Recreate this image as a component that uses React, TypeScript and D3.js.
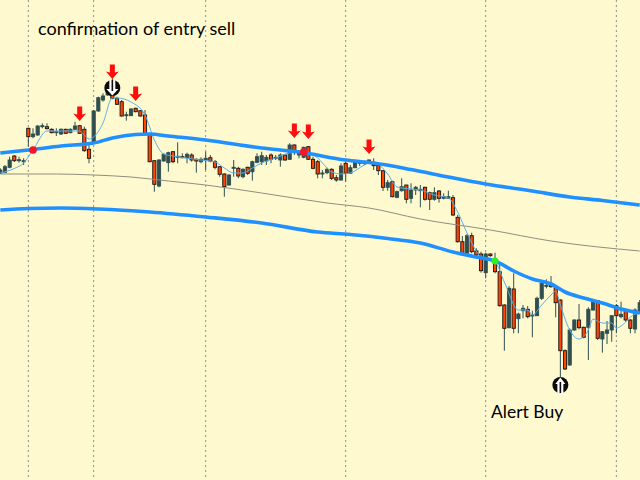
import { useEffect, useRef } from 'react';
import * as d3 from 'd3';

// candle values, one entry per bar (price in chart units)
const opens = [
  306.7, 307.7, 312.7, 324, 319.7, 318.7, 351.7, 343.3, 345, 353.7,
  353.3, 350.7, 347.3, 346, 350.7, 347.3, 350.7, 354.3, 350.7, 330.7,
  336.7, 369, 380, 385, 386.7, 381.7, 378.3, 364.7, 364.3, 371.7,
  369.3, 365, 346, 319.3, 294, 319, 317.3, 328.3, 323, 323.3,
  322.3, 325, 320.7, 318.3, 320, 322.3, 318.3, 313.3, 306, 295,
  311.7, 311.7, 303.3, 312.7, 308.3, 317.7, 318.3, 319, 325, 321.7,
  320, 325, 320.7, 335, 325, 322.7, 333.3, 320.7, 318.3, 306.3,
  307.3, 310.7, 302.3, 300, 316.7, 306.7, 312.3, 316.7, 316.7, 319.3,
  316.7, 315, 309.3, 292.7, 298.3, 282.7, 289.3, 295, 281.7, 290,
  289.3, 292.7, 287.3, 280.7, 289, 281.7, 281.7, 282.3, 262.7, 238.3,
  226.7, 244.3, 229, 226, 207.3, 226, 218.3, 208.3, 175, 152.3,
  191, 161.3, 169.3, 170.7, 164, 164.3, 181.7, 194, 196.7, 192.3,
  180, 129.3, 115, 150, 160, 152.7, 152.7, 170, 179.3, 141,
  146.7, 150, 174.3, 163.3, 170, 160, 151, 166.7,
];
const closes = [
  310, 313.3, 320, 319.3, 320.3, 319.3, 343.3, 346, 354, 354.3,
  351.3, 347.3, 348.3, 350.7, 346.7, 350.7, 354, 346.7, 329.3, 321.7,
  369, 382.3, 384, 395, 381.7, 375.7, 364, 365.3, 371, 368.3,
  364, 346, 318.3, 295.7, 320, 325.7, 327.3, 318.3, 323.7, 322.3,
  325.7, 320, 319, 320.7, 321.7, 319, 312.7, 305.7, 293.3, 305,
  312.7, 304, 310.7, 306.7, 318.3, 323.3, 324.3, 322.7, 320.7, 322.7,
  325, 320, 335, 329.3, 328.3, 332.7, 320.7, 311.7, 306, 307,
  310.7, 301.7, 300, 314, 306.7, 312.3, 317.7, 317.7, 317.7, 320,
  314.3, 309.3, 292.7, 297.3, 283.3, 288.3, 293.3, 280.7, 290, 292.7,
  290.7, 280.7, 280.7, 287.3, 281.7, 283.3, 283.3, 265, 238.3, 226.7,
  244.3, 228.3, 225, 209.3, 226, 224.3, 208.3, 174.3, 151.7, 191.7,
  151.7, 166, 171.7, 163.3, 165, 181.7, 196.7, 194.7, 193.3, 177.3,
  129.3, 111, 150, 160, 152.3, 142.7, 170.7, 178.3, 141.7, 148.3,
  150, 164.3, 164.3, 165.7, 160, 151.7, 170, 177.3,
];
const highs = [
  311.7, 315, 323.3, 325, 323.3, 321.7, 352.3, 351.7, 354.7, 356.7,
  356.7, 351.7, 351.7, 351.7, 351.3, 351.7, 358.3, 355, 353.3, 336.7,
  370, 383.3, 386.7, 396.7, 401.7, 383.3, 380, 368.3, 371.7, 372.3,
  370, 370, 346.7, 320, 320.7, 326.7, 328.3, 329, 337.7, 326.7,
  327.3, 326.7, 321.7, 322.7, 328.3, 325, 320, 314, 306.7, 305.7,
  320, 313.3, 311.7, 313.3, 319.3, 326.7, 328.3, 325, 326.7, 325,
  326.7, 325.7, 336.7, 335.7, 330, 333.3, 334, 323.3, 320, 310,
  312.3, 311.7, 305, 316.7, 318.3, 315, 318.3, 320, 319.3, 320.7,
  321.7, 316.7, 310, 300, 299.3, 289.3, 301.7, 295, 296.7, 294,
  295, 293.3, 288.3, 292.7, 290, 286.7, 289.3, 285, 265, 244,
  246, 247.3, 231.7, 228.3, 227.3, 226.7, 227.3, 215, 175.7, 194,
  206.7, 167.3, 175, 174, 169.3, 183.3, 200, 200.7, 204, 193.3,
  180.7, 130.7, 151.7, 160.7, 176, 153.3, 172.7, 180, 180, 149,
  159, 165, 176, 178.3, 171.7, 160.7, 171.7, 180,
];
const lows = [
  306, 306.7, 311.7, 318, 317.3, 315, 333.3, 341.7, 344.3, 351.7,
  350.7, 346.7, 344, 345, 346, 346.7, 350.3, 346, 328.3, 316.7,
  336, 368.3, 378.3, 384.3, 380.7, 375, 363.3, 359.3, 364, 367.7,
  363.3, 345.3, 317.7, 288.3, 292.7, 318.3, 308.3, 316.7, 316.7, 321.7,
  316.7, 318.3, 307.3, 316.7, 310, 317.7, 310.7, 303.3, 283.3, 294.3,
  303.3, 301.7, 301.7, 305, 299.3, 316.7, 315, 315, 316.7, 320,
  313.3, 319.3, 320, 325, 321.7, 321.7, 320, 310.7, 301.7, 301.7,
  305.7, 300, 298.3, 299.3, 298.3, 306, 311.7, 314, 315, 318.3,
  310, 305, 289, 289.3, 282.7, 281.7, 288.3, 276.7, 276.7, 285,
  272.7, 279.3, 270, 279.3, 277.3, 280.7, 281, 264, 237.3, 226,
  225, 226.7, 223.3, 207.3, 201.7, 223.3, 206.7, 173.3, 129.3, 151.7,
  146.7, 146.7, 161.7, 161.7, 142.7, 164, 180, 191.7, 192.3, 162.7,
  95, 110, 114.3, 149.3, 150.7, 141.7, 120, 169.3, 140, 127.3,
  136, 138.3, 146.7, 161.7, 158.3, 146.7, 146.7, 166,
];

// moving averages, sampled where they bend
const upperBandBars = [0, 6, 13, 20, 24, 29, 32, 36, 44, 56, 64, 74, 80, 88, 96, 104, 114, 122, 129, 137];
const upperBand = [327, 330, 334, 337, 342, 345.5, 346, 344, 340, 332, 328, 320, 317, 310.5, 303, 296, 289, 283, 279.5, 275];
const lowerBandBars = [0, 6, 13, 21, 32, 44, 56, 68, 75, 83, 90, 97, 102, 106, 110, 114, 118, 121, 125, 129, 133, 137];
const lowerBand = [270, 271.5, 272, 271, 268, 263, 257, 248, 245.5, 241.5, 237, 228, 223, 219, 209, 201, 196, 188, 182, 177, 171, 167];
const slowLineBars = [0, 12, 20, 28, 36, 44, 56, 70, 79, 90, 105, 118, 137];
const slowLine = [306, 306, 305, 303, 299, 295, 287, 277, 272, 261, 250, 239, 229];
const fastLineBars = [
  0, 3, 5, 7, 10, 17, 18, 19, 20, 22, 24, 25, 28, 31, 33, 35, 37, 43, 46, 48,
  50, 52, 54, 56, 59, 62, 65, 68, 70, 71, 73, 75, 78, 80, 83, 85, 88, 90, 93, 96,
  98, 100, 103, 104, 106, 108, 111, 113, 114, 116, 118, 119, 120, 122, 124, 126, 127, 129, 131, 132,
  134, 135, 137,
];
const fastLine = [
  307, 311.5, 317, 330, 349, 349, 345, 341, 343, 357, 382, 382, 378, 365, 340, 326, 324, 320, 318, 312,
  307, 307, 312, 317, 322, 327, 328, 322, 312, 308, 306, 307, 315, 318, 306, 293, 291, 290, 285, 282,
  268, 247, 223, 221, 218, 198, 170, 170, 165, 175, 185, 189, 175, 150, 141, 150, 161, 157, 157, 152,
  158, 163, 167,
];

// signals
const sellArrowBars = [17, 24, 29, 63, 66, 79];
const sellArrowPrices = [359, 401, 379, 342, 341, 326];
const redDotBars = [7, 65];
const redDotPrices = [330, 328];
const greenDotBars = [106];
const greenDotPrices = [219];
const gridBars = [6, 20, 44, 74, 104, 132];

export default function App() {
  const svgRef = useRef<SVGSVGElement>(null);

  useEffect(() => {
    if (!svgRef.current) return;

    const width = 640;
    const height = 480;

    d3.select(svgRef.current).selectAll('*').remove();

    const svg = d3.select(svgRef.current)
      .attr('width', width)
      .attr('height', height);

    svg.append('rect')
      .attr('width', width)
      .attr('height', height)
      .attr('fill', '#fff9cf');

    const x = d3.scaleLinear().domain([0, 137]).range([0.33, 639.7]);
    const y = d3.scaleLinear().domain([0, 480]).range([480, 0]);

    // Gridlines
    svg.append('g')
      .selectAll('line')
      .data(gridBars)
      .join('line')
      .attr('x1', d => x(d))
      .attr('x2', d => x(d))
      .attr('y1', 0)
      .attr('y2', height)
      .attr('stroke', '#8f8f86')
      .attr('stroke-width', 1)
      .attr('stroke-dasharray', '2,3');

    const bars = d3.range(opens.length);

    // Wicks
    svg.append('g')
      .selectAll('line')
      .data(bars)
      .join('line')
      .attr('x1', i => x(i))
      .attr('x2', i => x(i))
      .attr('y1', i => y(highs[i]))
      .attr('y2', i => y(lows[i]))
      .attr('stroke', '#2f4f4f')
      .attr('stroke-width', 1);

    // Bodies
    svg.append('g')
      .selectAll('rect')
      .data(bars)
      .join('rect')
      .attr('x', i => x(i) - 1.6)
      .attr('width', 3.2)
      .attr('y', i => y(Math.max(opens[i], closes[i])))
      .attr('height', i => Math.max(1, Math.abs(opens[i] - closes[i])))
      .attr('fill', i => (closes[i] >= opens[i] ? '#2f4f4f' : '#ff4500'))
      .attr('stroke', i => (closes[i] >= opens[i] ? '#2f4f4f' : '#141414'))
      .attr('stroke-width', 0.9);

    const drawLine = (barIdx: number[], values: number[], color: string, lineWidth: number) => {
      const line = d3.line<number>()
        .x(i => x(barIdx[i]))
        .y(i => y(values[i]))
        .curve(d3.curveMonotoneX);
      svg.append('path')
        .datum(d3.range(values.length))
        .attr('fill', 'none')
        .attr('stroke', color)
        .attr('stroke-width', lineWidth)
        .attr('d', line);
    };

    drawLine(slowLineBars, slowLine, '#8f8d80', 1);
    drawLine(fastLineBars, fastLine, '#5aaee8', 1);
    drawLine(upperBandBars, upperBand, '#1e90ff', 3.6);
    drawLine(lowerBandBars, lowerBand, '#1e90ff', 3.6);

    // Sell arrows
    const arrow = 'M0,0 L-6.5,-7.5 L-2.5,-6.5 L-2.5,-14.5 L2.5,-14.5 L2.5,-6.5 L6.5,-7.5 Z';
    svg.append('g')
      .selectAll('path')
      .data(sellArrowBars)
      .join('path')
      .attr('transform', (d, i) => `translate(${x(d)},${y(sellArrowPrices[i])})`)
      .attr('d', arrow)
      .attr('fill', '#ff0d0d');

    // Dots
    svg.append('g')
      .selectAll('circle')
      .data(redDotBars)
      .join('circle')
      .attr('cx', d => x(d))
      .attr('cy', (d, i) => y(redDotPrices[i]))
      .attr('r', 3.8)
      .attr('fill', '#f5142a');

    svg.append('g')
      .selectAll('circle')
      .data(greenDotBars)
      .join('circle')
      .attr('cx', d => x(d))
      .attr('cy', (d, i) => y(greenDotPrices[i]))
      .attr('r', 3.6)
      .attr('fill', '#2ff01f');

    // Alert badges, black disc with a white arrow
    const badge = (barIndex: number, price: number, dir: number, head: number) => {
      const g = svg.append('g')
        .attr('transform', `translate(${x(barIndex)},${y(price)}) scale(1,${dir})`);
      g.append('circle').attr('r', 8).attr('fill', '#0a0a0a');
      g.append('path')
        .attr('d', `M0,7.5 L${-head},1 L-3,1 L-3,-8 L3,-8 L3,1 L${head},1 Z`)
        .attr('fill', '#fff');
      g.append('line')
        .attr('y1', -8)
        .attr('y2', 3)
        .attr('stroke', '#0a0a0a')
        .attr('stroke-width', 1.6);
    };
    badge(24, 392, 1, 6);
    badge(120, 95, -1, 5);

    // Labels
    svg.append('text')
      .attr('x', 38)
      .attr('y', 35)
      .style('font-family', 'Lato')
      .style('font-size', '18px')
      .style('fill', '#000')
      .text('confirmation of entry sell');

    svg.append('text')
      .attr('x', 491)
      .attr('y', 418)
      .style('font-family', 'Lato')
      .style('font-size', '17.5px')
      .style('fill', '#000')
      .text('Alert Buy');
  }, []);

  return (
    <div style={{ position: 'absolute', left: 0, top: 0 }}>
      <svg ref={svgRef} style={{ display: 'block' }}></svg>
    </div>
  );
}
